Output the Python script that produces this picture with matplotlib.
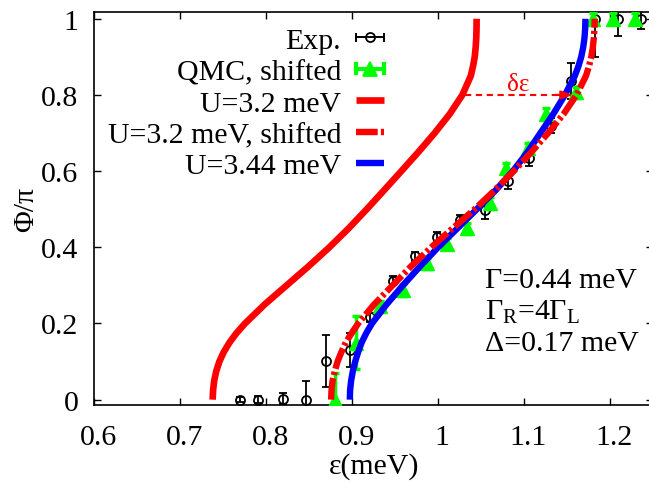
import matplotlib
matplotlib.use("Agg")
import matplotlib.pyplot as plt
from matplotlib.lines import Line2D
from matplotlib.legend_handler import HandlerBase
import matplotlib.transforms as mtransforms

plt.rcParams['font.family'] = ['Liberation Serif', 'DejaVu Serif']
plt.rcParams['mathtext.fontset'] = 'custom'
plt.rcParams['mathtext.rm'] = 'Liberation Serif'
plt.rcParams['mathtext.it'] = 'Liberation Serif:italic'

# ---------------- data ----------------
exp_x = [0.769, 0.791, 0.820, 0.846, 0.869, 0.898, 0.921, 0.947, 0.973, 0.999,
         1.026, 1.054, 1.081, 1.106, 1.131, 1.155, 1.183, 1.209, 1.236]
exp_y = [0.000, 0.000, 0.003, 0.000, 0.101, 0.130, 0.216, 0.312, 0.376, 0.428,
         0.472, 0.497, 0.574, 0.634, 0.719, 0.837, 1.000, 1.000, 1.000]
exp_err = [0.006, 0.010, 0.015, 0.050, 0.068, 0.045, 0.012, 0.012, 0.012, 0.012,
           0.012, 0.022, 0.020, 0.020, 0.020, 0.048, 0.100, 0.045, 0.028]

qmc_x = [0.880, 0.905, 0.932, 0.959, 0.987, 1.010, 1.034, 1.060, 1.079, 1.105,
         1.126, 1.160, 1.180, 1.204, 1.229]
qmc_y = [0.000, 0.150, 0.245, 0.288, 0.358, 0.410, 0.450, 0.516, 0.607, 0.660,
         0.750, 0.807, 1.000, 1.000, 1.000]
qmc_err = [0.070, 0.070, 0.015, 0.015, 0.015, 0.015, 0.015, 0.015, 0.015, 0.015,
           0.015, 0.015, 0.015, 0.015, 0.015]

curve_y = [0.000, 0.025, 0.050, 0.075, 0.100, 0.125, 0.150, 0.175, 0.200, 0.250,
           0.300, 0.350, 0.400, 0.450, 0.500, 0.550, 0.600, 0.650, 0.700, 0.750,
           0.800, 0.850, 0.875, 0.900, 0.925, 0.950, 0.975, 1.000]
u32_x = [0.7377, 0.7382, 0.7395, 0.7419, 0.7455, 0.7506, 0.7573, 0.7655, 0.7753,
         0.7982, 0.8237, 0.8492, 0.8735, 0.8960, 0.9170, 0.9372, 0.9572, 0.9770,
         0.9960, 1.0135, 1.0282, 1.0380, 1.0406, 1.0426, 1.0437, 1.0444, 1.0447,
         1.0448]
u32s_x = [0.8755, 0.8760, 0.8772, 0.8798, 0.8830, 0.8875, 0.8925, 0.8995, 0.9070,
          0.9255, 0.9470, 0.9685, 0.9920, 1.0170, 1.0425, 1.0660, 1.0880, 1.1085,
          1.1280, 1.1460, 1.1610, 1.1720, 1.1755, 1.1782, 1.1800, 1.1812, 1.1819,
          1.1822]
u344_x = [0.8973, 0.8976, 0.8988, 0.9008, 0.9035, 0.9070, 0.9110, 0.9165, 0.9230,
          0.9400, 0.9590, 0.9790, 1.0000, 1.0225, 1.0450, 1.0670, 1.0870, 1.1040,
          1.1190, 1.1340, 1.1475, 1.1590, 1.1632, 1.1665, 1.1688, 1.1703, 1.1711,
          1.1714]

legend_labels = ["Exp.", "QMC, shifted", "U=3.2 meV", "U=3.2 meV, shifted", "U=3.44 meV"]
xticks = [0.6, 0.7, 0.8, 0.9, 1.0, 1.1, 1.2]
xtick_labels = ["0.6", "0.7", "0.8", "0.9", "1", "1.1", "1.2"]
yticks = [0, 0.2, 0.4, 0.6, 0.8, 1.0]
ytick_labels = ["0", "0.2", "0.4", "0.6", "0.8", "1"]
info_lines = ["Γ=0.44 meV", "Γ$_\\mathrm{R}$=4Γ$_\\mathrm{L}$", "Δ=0.17 meV"]
info_y = [0.314, 0.233, 0.150]

# ---------------- figure ----------------
W, H = 649, 485
fig = plt.figure(figsize=(W / 100, H / 100), dpi=100)
ax = fig.add_axes([94.3 / W, (H - 406) / H, (653 - 94.3) / W, (406 - 13.3) / H])
ax.set_xlim(0.6, 1.25)
ax.set_ylim(-0.014, 1.017)

FS = 21.5
RED, GREEN, BLUE = '#ff0000', '#00ff00', '#0000ff'
DASHDOT = (3.4, 0.5, 0.5, 0.5)

ax.errorbar(exp_x, exp_y, yerr=exp_err, fmt='o', ms=6.5, mfc='none', mec='k',
            mew=1.3, ecolor='k', elinewidth=1.3, capsize=2.6, capthick=1.3, zorder=2)
ax.errorbar(qmc_x, qmc_y, yerr=qmc_err, fmt='^', ms=10, mfc=GREEN, mec=GREEN,
            ecolor=GREEN, elinewidth=2.5, capsize=3, capthick=2.5, zorder=3)
ax.plot(u32_x, curve_y, color=RED, lw=4.8, solid_capstyle='butt',
        solid_joinstyle='round', zorder=4)
ax.plot(u344_x, curve_y, color=BLUE, lw=4.6, solid_capstyle='butt',
        solid_joinstyle='round', zorder=4)
ax.plot(u32s_x, curve_y, color=RED, lw=4.6, dashes=DASHDOT,
        dash_capstyle='butt', zorder=5)

# delta epsilon arrow
ax.plot([1.031, 1.140], [0.80, 0.80], color=RED, lw=1.5, dashes=(3, 2.2), zorder=6)
ax.annotate("", xy=(1.157, 0.80), xytext=(1.135, 0.80),
            arrowprops=dict(arrowstyle='-|>,head_length=0.7,head_width=0.25',
                            color=RED, lw=1.5, shrinkA=0, shrinkB=0), zorder=6)
ax.text(1.093, 0.828, "δε", color=RED, fontsize=18, ha='center', va='center')

for line, yy in zip(info_lines, info_y):
    ax.text(1.055, yy, line, fontsize=FS, ha='left', va='center')

# ticks
ax.set_xticks(xticks)
ax.set_xticklabels(xtick_labels)
ax.set_yticks(yticks)
ax.set_yticklabels(ytick_labels)
ax.tick_params(direction='in', length=5, width=1, top=True, right=True,
               labelsize=FS)
ax.tick_params(axis='x', pad=13.5)
ax.tick_params(axis='y', pad=11.5)
off = mtransforms.ScaledTranslation(4 / 100, 0, fig.dpi_scale_trans)
for lab in ax.get_xticklabels():
    lab.set_transform(lab.get_transform() + off)
for s in ax.spines.values():
    s.set_linewidth(1.2)

ax.set_xlabel("ε(meV)", fontsize=FS, labelpad=2)
ax.set_ylabel("Φ/π", fontsize=FS, labelpad=1)


# legend (gnuplot-like: text right aligned, sample on the right)
class HandlerHErr(HandlerBase):
    """Horizontal sample with end caps and a centre marker (gnuplot errorbar key)."""

    def __init__(self, color, lw, marker, ms, mfc, cap):
        super().__init__()
        self.c, self.lw, self.m, self.ms, self.mfc, self.cap = color, lw, marker, ms, mfc, cap

    def create_artists(self, legend, orig_handle, xdescent, ydescent, width, height,
                       fontsize, trans):
        y = height / 2 - ydescent
        x0, x1 = -xdescent, -xdescent + width
        arts = [Line2D([x0, x1], [y, y], color=self.c, lw=self.lw),
                Line2D([x0, x0], [y - self.cap, y + self.cap], color=self.c, lw=self.lw),
                Line2D([x1, x1], [y - self.cap, y + self.cap], color=self.c, lw=self.lw),
                Line2D([(x0 + x1) / 2], [y], lw=0, marker=self.m, ms=self.ms,
                       mfc=self.mfc, mec=self.c, mew=1.3)]
        for a in arts:
            a.set_transform(trans)
        return arts


h_exp = Line2D([], [])
h_q = Line2D([], [])
h_u32 = Line2D([0, 1], [0, 0], color=RED, lw=4.8, solid_capstyle='butt')
h_u32s = Line2D([0, 1], [0, 0], color=RED, lw=4.6, dashes=DASHDOT, dash_capstyle='butt')
h_u344 = Line2D([0, 1], [0, 0], color=BLUE, lw=4.6, solid_capstyle='butt')
hmap = {h_exp: HandlerHErr('k', 1.4, 'o', 6.5, 'none', 2.8),
        h_q: HandlerHErr(GREEN, 3.0, '^', 10, GREEN, 3.2)}
leg = ax.legend([h_exp, h_q, h_u32, h_u32s, h_u344],
                legend_labels, handler_map=hmap, loc='upper right',
                bbox_to_anchor=(383.5 / W, (H - 28) / H), bbox_transform=fig.transFigure,
                frameon=False, markerfirst=False, fontsize=FS, handlelength=0.92,
                handletextpad=0.5, labelspacing=0.15, borderpad=0, borderaxespad=0)

fig.savefig("out.png", dpi=100)
